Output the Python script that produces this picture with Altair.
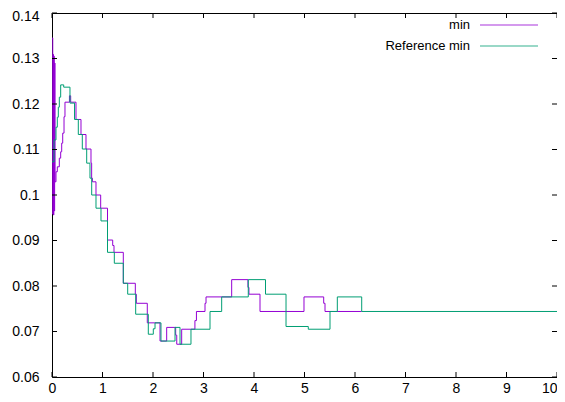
import altair as alt
import pandas as pd

# "min" series (step function)
min_x = [0, 0.015, 0.022, 0.03, 0.037, 0.045, 0.052, 0.06, 0.079, 0.105, 0.145, 0.172,
         0.192, 0.212, 0.238, 0.257, 0.345, 0.37, 0.475, 0.574, 0.673, 0.772, 0.785,
         0.80, 0.871, 0.964, 1.099, 1.202, 1.228, 1.412, 1.65, 1.67, 1.887, 2.139,
         2.271, 2.449, 2.47, 2.568, 2.83, 2.86, 3.03, 3.05, 3.558, 3.88, 3.90, 4.119,
         4.99, 5.38, 5.406, 6.133]
min_y = [0.1345, 0.0958, 0.1309, 0.0956, 0.1305, 0.0965, 0.1290, 0.1029, 0.1051, 0.1062,
         0.1081, 0.1095, 0.1114, 0.1136, 0.1172, 0.1204, 0.1218, 0.1204, 0.1166, 0.1133,
         0.1101, 0.1070, 0.1037, 0.1029, 0.1000, 0.0971, 0.0901, 0.0889, 0.0874, 0.0806,
         0.0782, 0.0762, 0.0719, 0.0679, 0.0709, 0.0692, 0.0672, 0.0705, 0.0724, 0.0744,
         0.0762, 0.0776, 0.0814, 0.0797, 0.0782, 0.0744, 0.0776, 0.0762, 0.0744, 0.0744]

# "Reference min" series (step function)
ref_x = [0, 0.04, 0.079, 0.105, 0.125, 0.145, 0.172, 0.232, 0.356, 0.446, 0.521, 0.6,
         0.687, 0.752, 0.786, 0.871, 0.970, 1.099, 1.234, 1.412, 1.499, 1.657, 1.907,
         2.006, 2.04, 2.158, 2.436, 2.535, 2.752, 3.129, 3.36, 3.887, 4.228, 4.634,
         5.075, 5.505, 5.65, 6.133, 10]
ref_y = [0.1073, 0.1121, 0.1149, 0.1171, 0.1193, 0.1215, 0.1242, 0.1237, 0.1202, 0.1166,
         0.1133, 0.1101, 0.1070, 0.1037, 0.1000, 0.0971, 0.0943, 0.0874, 0.0850, 0.0806,
         0.0782, 0.0738, 0.0694, 0.0706, 0.0719, 0.0679, 0.0709, 0.0672, 0.0705, 0.0744,
         0.0776, 0.0814, 0.0782, 0.0711, 0.0705, 0.0744, 0.0776, 0.0744, 0.0744]

x_ticks = [0, 1, 2, 3, 4, 5, 6, 7, 8, 9, 10]
y_ticks = [0.06, 0.07, 0.08, 0.09, 0.10, 0.11, 0.12, 0.13, 0.14]
series_names = ["min", "Reference min"]
series_colors = ["#9400d3", "#009e73"]

W, H = 505, 364
FONT = "Liberation Sans"
FS = 14

df_min = pd.DataFrame({"x": min_x, "y": min_y})
df_ref = pd.DataFrame({"x": ref_x, "y": ref_y})
df_xt = pd.DataFrame({"x": x_ticks})
df_yt = pd.DataFrame({"y": y_ticks})

xscale = alt.Scale(domain=[0, 10], nice=False, zero=False)
yscale = alt.Scale(domain=[0.06, 0.14], nice=False, zero=False)

xaxis = alt.Axis(values=x_ticks, title=None, grid=False, domain=False, ticks=False,
                 labelFont=FONT, labelFontSize=FS, labelColor="#000000",
                 labelPadding=4, labelFlush=False,
                 labelAlign={"condition": {"test": "datum.value == 10", "value": "right"},
                             "value": "center"})
yaxis = alt.Axis(values=y_ticks, title=None, grid=False, domain=False, ticks=False,
                 format=".2~f",
                 labelFont=FONT, labelFontSize=FS, labelColor="#000000",
                 labelPadding=13, labelFlush=False,
                 labelOffset={"condition": {"test": "datum.value >= 0.139", "value": 3},
                              "value": 0})

line_min = alt.Chart(df_min).mark_line(interpolate="step-after", color=series_colors[0],
                                       strokeWidth=1, clip=True).encode(
    x=alt.X("x:Q", scale=xscale, axis=xaxis),
    y=alt.Y("y:Q", scale=yscale, axis=yaxis),
)
line_ref = alt.Chart(df_ref).mark_line(interpolate="step-after", color=series_colors[1],
                                       strokeWidth=1, clip=True).encode(
    x=alt.X("x:Q", scale=xscale),
    y=alt.Y("y:Q", scale=yscale),
)

TL = 5
tick_color = "#000000"
bot_ticks = alt.Chart(df_xt).mark_rule(color=tick_color, strokeWidth=1).encode(
    x=alt.X("x:Q", scale=xscale), y=alt.value(H), y2=alt.value(H - TL))
top_ticks = alt.Chart(df_xt).mark_rule(color=tick_color, strokeWidth=1).encode(
    x=alt.X("x:Q", scale=xscale), y=alt.value(0), y2=alt.value(TL))
left_ticks = alt.Chart(df_yt).mark_rule(color=tick_color, strokeWidth=1).encode(
    y=alt.Y("y:Q", scale=yscale), x=alt.value(0), x2=alt.value(TL))
right_ticks = alt.Chart(df_yt).mark_rule(color=tick_color, strokeWidth=1).encode(
    y=alt.Y("y:Q", scale=yscale), x=alt.value(W), x2=alt.value(W - TL))

legend_layers = []
for i, (name, col) in enumerate(zip(series_names, series_colors)):
    ly = 12 + 21 * i
    ldf = pd.DataFrame({"name": [name]})
    legend_layers.append(
        alt.Chart(ldf).mark_text(align="right", baseline="middle", font=FONT,
                                 fontSize=13, color="#000000").encode(
            text="name:N", x=alt.value(418), y=alt.value(ly)))
    legend_layers.append(
        alt.Chart(ldf).mark_rule(color=col, strokeWidth=1, opacity=0.8).encode(
            x=alt.value(428), x2=alt.value(486), y=alt.value(ly)))

chart = alt.layer(line_min, line_ref, bot_ticks, top_ticks, left_ticks, right_ticks,
                  *legend_layers).properties(
    width=W, height=H,
    padding={"left": 44, "top": 5, "right": 0, "bottom": 17},
    autosize=alt.AutoSizeParams(type="none"),
    background="white",
).configure_view(stroke="#000000", strokeWidth=1)

chart.save("out.html", embed_options={"renderer": "svg", "actions": False})
